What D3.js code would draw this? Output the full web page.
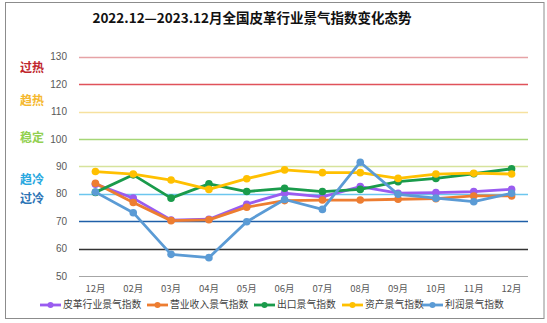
<!DOCTYPE html>
<html>
<head>
<meta charset="utf-8">
<script src="https://cdn.jsdelivr.net/npm/d3@7"></script>
<style>
  html, body { margin: 0; padding: 0; background: #fff; }
  svg { display: block; }
</style>
</head>
<body>
<svg id="chart" width="547" height="323"></svg>
<script>
// Months on the x axis
const months = ["12月", "02月", "03月", "04月", "05月", "06月", "07月", "08月", "09月", "10月", "11月", "12月"];

// Index series, Dec 2022 – Dec 2023
const leatherIndex = [83.5, 78.4, 70.4, 70.7, 76.2, 80.2, 78.9, 82.6, 80.2, 80.4, 80.8, 81.6];
const revenueIndex = [83.8, 76.8, 70.2, 70.5, 75.1, 77.5, 77.7, 77.7, 78.0, 78.2, 79.2, 79.2];
const exportIndex  = [80.5, 86.9, 78.4, 83.6, 80.8, 82.0, 80.8, 81.6, 84.4, 85.6, 87.3, 89.1];
const assetIndex   = [88.1, 87.2, 85.0, 81.6, 85.5, 88.7, 87.7, 87.7, 85.6, 87.2, 87.5, 87.2];
const profitIndex  = [80.6, 73.1, 57.9, 56.7, 69.8, 77.9, 74.3, 91.5, 79.8, 78.4, 77.1, 80.2];

const seriesNames = ["皮革行业景气指数", "营业收入景气指数", "出口景气指数", "资产景气指数", "利润景气指数"];
const seriesColors = ["#9a5cf0", "#ed7d31", "#1a9b4b", "#ffc000", "#5b9bd5"];
const seriesValues = [leatherIndex, revenueIndex, exportIndex, assetIndex, profitIndex];

// Y ticks and the colour of each reference line
const yTicks = [50, 60, 70, 80, 90, 100, 110, 120, 130];
const tickLineColors = ["#a6a6a6", "#333333", "#1f5fa8", "#6cc6ee", "#d6e39c", "#a6d677", "#f6e19f", "#e0525a", "#e6a3a6"];

// Zone labels beside the axis
const zoneLabels = ["过热", "趋热", "稳定", "趋冷", "过冷"];
const zoneValues = [125.9, 113.8, 100.5, 85.2, 78.3];
const zoneColors = ["#c0272d", "#f5b82e", "#92d050", "#29a8e0", "#2e75b6"];

const svg = d3.select("#chart");
const W = 547, H = 323;

// Outer frame
svg.append("rect")
  .attr("x", 5.5).attr("y", 2.5)
  .attr("width", 538.5).attr("height", 316)
  .attr("fill", "#fff")
  .attr("stroke", "#8c8c8c").attr("stroke-width", 1);

// Title
svg.append("text")
  .attr("x", 252).attr("y", 23)
  .attr("text-anchor", "middle")
  .attr("font-family", "'Noto Sans CJK SC', sans-serif")
  .attr("font-size", 13.5)
  .attr("font-weight", "bold")
  .attr("fill", "#111")
  .text("2022.12—2023.12月全国皮革行业景气指数变化态势");

const x = d3.scaleBand().domain(d3.range(months.length)).range([76.5, 530.5]);
const xc = i => x(i) + x.bandwidth() / 2;
const y = d3.scaleLinear().domain([50, 130]).range([276, 56.7]);

const gridX0 = 79, gridX1 = 528;

// Reference lines
svg.append("g").selectAll("line")
  .data(yTicks)
  .join("line")
  .attr("x1", gridX0).attr("x2", gridX1)
  .attr("y1", d => Math.round(y(d)) + 0.5)
  .attr("y2", d => Math.round(y(d)) + 0.5)
  .attr("stroke", (d, i) => tickLineColors[i])
  .attr("stroke-width", (d, i) => i === 0 ? 1 : 1.3);

// Y axis tick labels
const yAxis = d3.axisLeft(y).tickValues(yTicks).tickSize(0).tickPadding(0);
const yg = svg.append("g").attr("transform", "translate(67,0)").call(yAxis);
yg.select(".domain").remove();
yg.selectAll("text")
  .attr("font-family", "'Liberation Sans', Arial, sans-serif")
  .attr("font-size", 10)
  .attr("fill", "#595959");

// X axis labels
const xAxis = d3.axisBottom(x).tickFormat(i => months[i]).tickSize(0).tickPadding(0);
const xg = svg.append("g").attr("transform", "translate(0,285)").call(xAxis);
xg.select(".domain").remove();
xg.selectAll("text")
  .attr("font-family", "'Noto Sans CJK SC', sans-serif")
  .attr("font-size", 9.5)
  .attr("fill", "#595959");

// Zone labels
svg.append("g").selectAll("text")
  .data(zoneLabels)
  .join("text")
  .attr("x", 32)
  .attr("y", (d, i) => y(zoneValues[i]))
  .attr("dy", "0.35em")
  .attr("text-anchor", "middle")
  .attr("font-family", "'Noto Sans CJK SC', sans-serif")
  .attr("font-size", 12)
  .attr("font-weight", "bold")
  .attr("fill", (d, i) => zoneColors[i])
  .text(d => d);

// Series lines and markers
const line = d3.line().x((d, i) => xc(i)).y(d => y(d));
seriesValues.forEach((vals, k) => {
  const g = svg.append("g");
  g.append("path")
    .datum(vals)
    .attr("d", line)
    .attr("fill", "none")
    .attr("stroke", seriesColors[k])
    .attr("stroke-width", 2.8)
    .attr("stroke-linejoin", "round");
  g.selectAll("circle")
    .data(vals)
    .join("circle")
    .attr("cx", (d, i) => xc(i))
    .attr("cy", d => y(d))
    .attr("r", 3.8)
    .attr("fill", seriesColors[k]);
});

// Legend
const legendX = [40, 147, 254, 342, 422];
const legendY = 305;
const lg = svg.append("g");
seriesNames.forEach((name, k) => {
  const gx = legendX[k];
  lg.append("line")
    .attr("x1", gx).attr("x2", gx + 21)
    .attr("y1", legendY).attr("y2", legendY)
    .attr("stroke", seriesColors[k]).attr("stroke-width", 2.8);
  lg.append("circle")
    .attr("cx", gx + 10.5).attr("cy", legendY).attr("r", 3)
    .attr("fill", seriesColors[k]);
  lg.append("text")
    .attr("x", gx + 23).attr("y", legendY)
    .attr("dy", "0.35em")
    .attr("font-family", "'Noto Sans CJK SC', sans-serif")
    .attr("font-size", 9.8)
    .attr("fill", "#404040")
    .text(name);
});
</script>
</body>
</html>
